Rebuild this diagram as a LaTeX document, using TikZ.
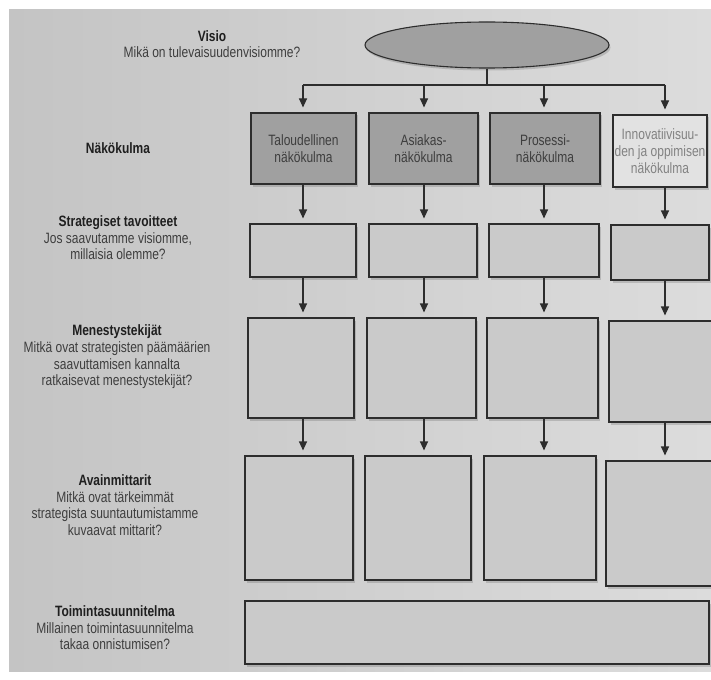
\documentclass[tikz,border=0pt]{standalone}
\usepackage{fontspec}
\setmainfont{Liberation Sans}[FakeStretch=0.8]
\usetikzlibrary{arrows.meta,shadows,shapes.geometric}
\definecolor{pageL}{RGB}{196,196,196}
\definecolor{pageR}{RGB}{220,220,220}
\definecolor{darkfill}{RGB}{160,160,160}
\definecolor{lightfill}{RGB}{226,226,226}
\definecolor{ink}{RGB}{45,45,45}
\definecolor{txt}{RGB}{62,62,62}
\definecolor{faint}{RGB}{130,130,130}
\tikzset{
  box/.style={draw=ink, line width=1.1pt, inner sep=0pt, align=center,
    font=\fontsize{15}{17}\selectfont, text=txt,
    drop shadow={shadow xshift=1.5pt, shadow yshift=-2.5pt, fill=black, opacity=0.15}},
  darkbox/.style={box, fill=darkfill},
  emptybox/.style={box, fill=pageL!75!pageR},
  conn/.style={draw=ink, line width=1.1pt},
  arr/.style={conn, -{Triangle[width=8pt,length=9pt]}, shorten >=5pt},
  lbl/.style={align=center, font=\fontsize{15}{16.6}\selectfont, text=txt, inner sep=0pt},
}
\newcommand{\ttl}[1]{{\bfseries\color{black!88}#1}}
\begin{document}
\begin{tikzpicture}[x=1pt,y=-1pt]
\useasboundingbox (0,0) rectangle (711,679);
\fill[white] (0,0) rectangle (711,679);
\shade[left color=pageL, right color=pageR] (9,10) rectangle (711,671);

% column x positions for connectors
\coordinate (x1) at (303,0);
\coordinate (x2) at (424,0);
\coordinate (x3) at (544,0);
\coordinate (x4) at (665,0);

% vision ellipse
\node[ellipse, draw=ink, line width=1.1pt, fill=darkfill, minimum width=244pt, minimum height=46pt,
  drop shadow={shadow xshift=1.5pt, shadow yshift=-2.5pt, fill=black, opacity=0.15}] (vis) at (487,45) {};
\coordinate (junc) at (487,85);

% row 1
\node[darkbox, minimum width=105pt, minimum height=71pt] (r1c1) at (303.5,148.5) {Taloudellinen\\näkökulma};
\node[darkbox, minimum width=109pt, minimum height=71pt] (r1c2) at (423.5,148.5) {Asiakas-\\näkökulma};
\node[darkbox, minimum width=110pt, minimum height=71pt] (r1c3) at (545,148.5) {Prosessi-\\näkökulma};
\node[box, fill=lightfill, text=faint, minimum width=94pt, minimum height=72pt] (r1c4) at (660,151) {Innovatiivisuu-\\den ja oppimisen\\näkökulma};

% row 2
\node[emptybox, minimum width=106pt, minimum height=53pt] (r2c1) at (303,250.5) {};
\node[emptybox, minimum width=108pt, minimum height=53pt] (r2c2) at (423,250.5) {};
\node[emptybox, minimum width=110pt, minimum height=53pt] (r2c3) at (544,250.5) {};
\node[emptybox, minimum width=98pt, minimum height=55pt] (r2c4) at (660,252.5) {};

% row 3
\node[emptybox, minimum width=106pt, minimum height=100pt] (r3c1) at (301,368) {};
\node[emptybox, minimum width=109pt, minimum height=100pt] (r3c2) at (421.5,368) {};
\node[emptybox, minimum width=111pt, minimum height=100pt] (r3c3) at (542.5,368) {};
\node[emptybox, minimum width=113pt, minimum height=101pt] (r3c4) at (665.5,371.5) {};

% row 4
\node[emptybox, minimum width=108pt, minimum height=124pt] (r4c1) at (299,518) {};
\node[emptybox, minimum width=106pt, minimum height=124pt] (r4c2) at (418,518) {};
\node[emptybox, minimum width=112pt, minimum height=124pt] (r4c3) at (540,518) {};
\node[emptybox, minimum width=116pt, minimum height=125pt] (r4c4) at (664,523.5) {};

% row 5
\node[emptybox, minimum width=464pt, minimum height=63pt] (r5) at (477,632.5) {};

% top connectors
\draw[conn] (vis.south) -- (junc);
\draw[conn] (junc -| x1) -- (junc -| x4);
\foreach \c in {1,2,3,4}{
  \draw[arr] (junc -| x\c) -- (r1c\c.north -| x\c);
}
% column connectors
\foreach \c in {1,2,3,4}{
  \draw[arr] (r1c\c.south -| x\c) -- (r2c\c.north -| x\c);
  \draw[arr] (r2c\c.south -| x\c) -- (r3c\c.north -| x\c);
  \draw[arr] (r3c\c.south -| x\c) -- (r4c\c.north -| x\c);
}

% left labels
\node[lbl] (lvis) at (212,44) {\ttl{Visio}\\Mikä on tulevaisuudenvisiomme?};
\node[lbl] (lnak) at (118,148) {\ttl{Näkökulma}};
\node[lbl] (lstr) at (118,238) {\ttl{Strategiset tavoitteet}\\Jos saavutamme visiomme,\\millaisia olemme?};
\node[lbl] (lmen) at (117,357) {\ttl{Menestystekijät}\\Mitkä ovat strategisten päämäärien\\saavuttamisen kannalta\\ratkaisevat menestystekijät?};
\node[lbl] (lava) at (115,505) {\ttl{Avainmittarit}\\Mitkä ovat tärkeimmät\\strategista suuntautumistamme\\kuvaavat mittarit?};
\node[lbl] (ltoi) at (115,628) {\ttl{Toimintasuunnitelma}\\Millainen toimintasuunnitelma\\takaa onnistumisen?};
\end{tikzpicture}
\end{document}
